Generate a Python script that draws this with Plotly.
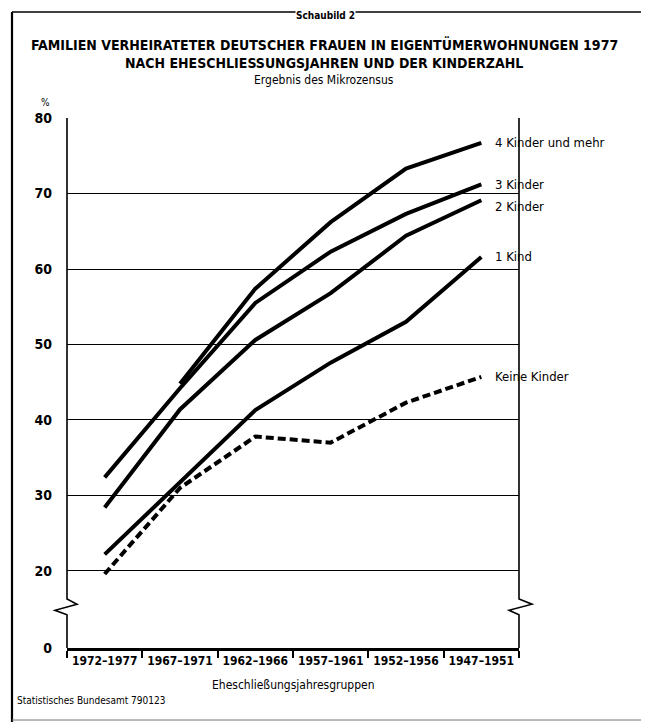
import plotly.graph_objects as go

categories = ["1972–1977", "1967–1971", "1962–1966", "1957–1961", "1952–1956", "1947–1951"]
series_names = ["4 Kinder und mehr", "3 Kinder", "2 Kinder", "1 Kind", "Keine Kinder"]
vier_kinder = [None, 44.8, 57.4, 66.2, 73.3, 76.7]
drei_kinder = [32.4, 44.2, 55.5, 62.3, 67.3, 71.2]
zwei_kinder = [28.4, 41.4, 50.6, 56.8, 64.4, 69.1]
ein_kind = [22.2, 31.8, 41.3, 47.6, 53.0, 61.6]
keine_kinder = [19.6, 31.0, 37.8, 37.0, 42.3, 45.7]
y_tick_vals = [9.8, 20, 30, 40, 50, 60, 70, 80]
y_tick_text = ["0", "20", "30", "40", "50", "60", "70", "80"]
label_shift = [0, 0, -6, 0, 0]

FONT = "DejaVu Sans Condensed, Liberation Sans Narrow, sans-serif"

fig = go.Figure()
all_series = [vier_kinder, drei_kinder, zwei_kinder, ein_kind, keine_kinder]
for i, (name, vals) in enumerate(zip(series_names, all_series)):
    dash = "8px,4px" if name == "Keine Kinder" else "solid"
    fig.add_trace(go.Scatter(x=categories, y=vals, mode="lines", name=name,
                             line=dict(color="black", width=4, dash=dash),
                             connectgaps=False, showlegend=False))
    fig.add_annotation(x=categories[-1], y=vals[-1], text=name, showarrow=False,
                       xanchor="left", yanchor="middle", xshift=12, yshift=label_shift[i],
                       font=dict(family=FONT, size=13, color="black"))

# page has an 8px body margin; compensate so positions match the reference page
OFF = 8
W, H = 649, 722
pw, ph = 452, 530
L, T = 67 - OFF, 118 - OFF
R, B = W - L - pw, H - T - ph

def px(x):
    return (x - OFF - L) / pw

def py(y):
    return (H - B - (y - OFF)) / ph

# axis break zigzag on the left and right frame lines (decoration)
zx = 10 / pw
zl = 12 / pw
left_path = (f"M 0,80 L 0,16.3 L {zx},15.6 L {-zl},14.8 L 0,14.2 L 0,9.8")
right_path = (f"M 1,80 L 1,16.3 L {1+zx*1.3},15.6 L {1-zx},14.8 L 1,14.2 L 1,9.8")
for p in (left_path, right_path):
    fig.add_shape(type="path", path=p, xref="paper", yref="y",
                  line=dict(color="black", width=1.6))

# outer frame
fig.add_shape(type="line", xref="paper", yref="paper", x0=px(12), x1=px(12), y0=py(12), y1=py(722),
              line=dict(color="black", width=2.2))
fig.add_shape(type="line", xref="paper", yref="paper", x0=px(12), x1=px(657), y0=py(12), y1=py(12),
              line=dict(color="black", width=1.6))
fig.add_shape(type="line", xref="paper", yref="paper", x0=px(12), x1=px(657), y0=py(720), y1=py(720),
              line=dict(color="#777", width=1))

texts = [
    ("FAMILIEN VERHEIRATETER DEUTSCHER FRAUEN IN EIGENTÜMERWOHNUNGEN 1977", 324, 45, 14, "bold", "middle", "center"),
    ("NACH EHESCHLIESSUNGSJAHREN UND DER KINDERZAHL", 324, 63, 14, "bold", "middle", "center"),
    ("Ergebnis des Mikrozensus", 324, 80, 12, "normal", "middle", "center"),
    ("%", 45, 102, 10, "normal", "middle", "center"),
    ("Eheschließungsjahresgruppen", 293, 685, 12, "normal", "middle", "center"),
    ("Statistisches Bundesamt 790123", 15, 700, 10, "normal", "middle", "left"),
]
for t, x, y, s, w, ya, xa in texts:
    fig.add_annotation(xref="paper", yref="paper", x=px(x), y=py(y), text=t, showarrow=False,
                       xanchor=xa, yanchor=ya, font=dict(family=FONT, size=s, color="black", weight=w))

# header at the very top of the page (partly hidden in the reference scan)
fig.add_annotation(xref="paper", yref="paper", x=px(325), y=py(9), text="Schaubild 2", showarrow=False,
                   xanchor="center", yanchor="top", bgcolor="white", borderpad=0,
                   font=dict(family=FONT, size=10, color="black", weight="bold"))

fig.update_layout(
    width=W, height=H, margin=dict(l=L, r=R, t=T, b=B),
    paper_bgcolor="white", plot_bgcolor="white",
    font=dict(family=FONT, color="black"),
    xaxis=dict(type="category", categoryarray=categories, range=[-0.5, 5.5],
               showline=True, linecolor="black", linewidth=2.5, showgrid=False,
               ticks="outside", tickson="boundaries", ticklen=7, tickwidth=1.5, tickcolor="black",
               tickangle=0,
               tickfont=dict(family=FONT, size=12, color="black", weight="bold"), zeroline=False),
    yaxis=dict(range=[9.8, 80], tickvals=y_tick_vals, ticktext=y_tick_text,
               showgrid=True, gridcolor="black", gridwidth=1, showline=False, zeroline=False,
               ticks="", ticklabelstandoff=14,
               tickfont=dict(family=FONT, size=14, color="black", weight="bold")),
)

fig.write_html("out.html")
